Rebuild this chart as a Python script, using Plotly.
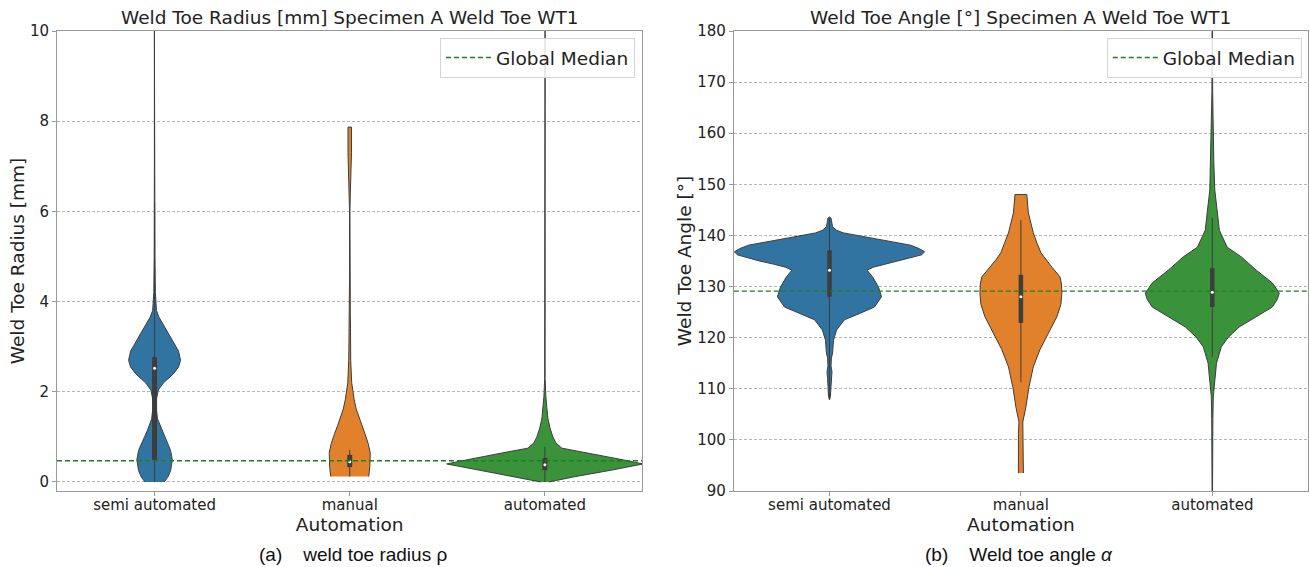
import plotly.graph_objects as go

categories = ["semi automated", "manual", "automated"]
fill_colors = ["#3274a1", "#e1812c", "#3a923a"]

# ---------- (a) weld toe radius: violin profiles (value, half-width in category units)
rad_semi_y = [0.0, 0.1, 0.25, 0.49, 0.7, 0.9, 1.15, 1.4, 1.66, 1.85, 2.04, 2.2, 2.4, 2.55, 2.7, 2.9, 3.15, 3.35,
              3.52, 3.65, 3.8, 4.2, 5.0, 7.0, 10.3]
rad_semi_w = [0.049, 0.067, 0.082, 0.091, 0.082, 0.062, 0.036, 0.015, 0.008, 0.010, 0.019, 0.046, 0.097, 0.123,
              0.133, 0.123, 0.090, 0.062, 0.041, 0.023, 0.010, 0.004, 0.002, 0.001, 0.001]
rad_man_y = [0.12, 0.34, 0.64, 0.85, 1.08, 1.25, 1.44, 1.62, 1.82, 2.0, 2.2, 2.7, 3.0, 3.4, 3.7, 4.5, 6.0, 6.4,
             6.8, 7.3, 7.87]
rad_man_w = [0.097, 0.103, 0.105, 0.095, 0.077, 0.062, 0.046, 0.033, 0.023, 0.015, 0.010, 0.005, 0.003, 0.004,
             0.003, 0.001, 0.001, 0.003, 0.007, 0.009, 0.009]
rad_auto_y = [0.0, 0.11, 0.26, 0.4, 0.5, 0.6, 0.68, 0.75, 0.87, 1.0, 1.2, 1.42, 1.65, 1.9, 2.3, 10.3]
rad_auto_w = [0.021, 0.144, 0.338, 0.503, 0.390, 0.262, 0.174, 0.087, 0.056, 0.041, 0.026, 0.015, 0.010, 0.005,
              0.001, 0.001]
# inner box stats: whisker low, q1, median, q3, whisker high
rad_box = [[0.0, 0.49, 2.52, 2.77, 6.2],
           [0.12, 0.33, 0.45, 0.60, 0.71],
           [0.0, 0.26, 0.38, 0.53, 0.78]]
rad_global_median = 0.47

# ---------- (b) weld toe angle
ang_semi_y = [107.8, 108.5, 110.5, 112.0, 113.3, 114.5, 116.0, 117.0, 119.5, 121.5, 123.5, 124.8, 126.0, 128.0,
              129.9, 131.9, 133.2, 133.8, 134.4, 135.0, 135.6, 136.2, 136.8, 137.4, 138.1, 138.8, 139.3, 139.7,
              140.5, 141.0, 141.7, 143.4, 143.6]
ang_semi_w = [0.0, 0.005, 0.008, 0.010, 0.013, 0.008, 0.010, 0.016, 0.021, 0.037, 0.078, 0.162, 0.235, 0.272,
              0.256, 0.225, 0.196, 0.230, 0.293, 0.366, 0.429, 0.481, 0.497, 0.470, 0.423, 0.321, 0.246, 0.188,
              0.073, 0.037, 0.016, 0.008, 0.0]
ang_man_y = [93.5, 97.0, 101.3, 103.5, 106.4, 110.3, 114.3, 117.6, 120.9, 124.1, 126.5, 128.7, 130.5, 131.9,
             133.8, 135.2, 136.6, 138.5, 140.5, 144.4, 148.0]
ang_man_w = [0.013, 0.013, 0.013, 0.010, 0.026, 0.042, 0.065, 0.099, 0.144, 0.188, 0.209, 0.214, 0.212, 0.204,
             0.162, 0.131, 0.105, 0.084, 0.065, 0.039, 0.031]
ang_auto_y = [88.0, 98.6, 104.0, 108.4, 111.7, 115.0, 118.2, 120.1, 122.1, 124.0, 126.0, 127.5, 128.7, 130.7,
              133.2, 135.8, 137.7, 141.0, 145.0, 148.9, 154.2, 160.6, 168.0, 182.0]
ang_auto_w = [0.001, 0.001, 0.003, 0.005, 0.013, 0.022, 0.047, 0.084, 0.141, 0.225, 0.314, 0.340, 0.350, 0.314,
              0.230, 0.152, 0.078, 0.037, 0.025, 0.013, 0.008, 0.005, 0.002, 0.001]
ang_box = [[108.0, 128.0, 133.2, 137.1, 143.4],
           [111.3, 122.9, 128.0, 132.3, 143.0],
           [116.2, 126.0, 128.9, 133.6, 143.4]]
ang_global_median = 129.1

EDGE = "#3d3d3d"

fig = go.Figure()


def add_violin(pos, ys, ws, color, xa, ya):
    xs = [pos + w for w in ws] + [pos - w for w in reversed(ws)]
    yy = list(ys) + list(reversed(ys))
    fig.add_trace(go.Scatter(x=xs, y=yy, fill="toself", fillcolor=color, mode="lines",
                             line=dict(color=EDGE, width=1), showlegend=False, hoverinfo="skip",
                             xaxis=xa, yaxis=ya))


def add_box(pos, stats, xa, ya, bw):
    lo, q1, med, q3, hi = stats
    fig.add_trace(go.Scatter(x=[pos, pos], y=[lo, hi], mode="lines", line=dict(color=EDGE, width=1),
                             showlegend=False, hoverinfo="skip", xaxis=xa, yaxis=ya))
    fig.add_trace(go.Scatter(x=[pos, pos], y=[q1, q3], mode="lines", line=dict(color=EDGE, width=bw),
                             showlegend=False, hoverinfo="skip", xaxis=xa, yaxis=ya))
    fig.add_trace(go.Scatter(x=[pos], y=[med], mode="markers", marker=dict(color="white", size=3),
                             showlegend=False, hoverinfo="skip", xaxis=xa, yaxis=ya))


rad_profiles = [(rad_semi_y, rad_semi_w), (rad_man_y, rad_man_w), (rad_auto_y, rad_auto_w)]
ang_profiles = [(ang_semi_y, ang_semi_w), (ang_man_y, ang_man_w), (ang_auto_y, ang_auto_w)]

for i, (ys, ws) in enumerate(rad_profiles):
    add_violin(i, ys, ws, fill_colors[i], "x", "y")
    add_box(i, rad_box[i], "x", "y", 5)
for i, (ys, ws) in enumerate(ang_profiles):
    add_violin(i, ys, ws, fill_colors[i], "x2", "y2")
    add_box(i, ang_box[i], "x2", "y2", 4.5)

gm_line = dict(color="#1a801a", width=1.4, dash="5px,3px")
fig.add_trace(go.Scatter(x=[-0.5, 2.5], y=[rad_global_median] * 2, mode="lines", name="Global Median",
                         line=gm_line, legend="legend", xaxis="x", yaxis="y"))
fig.add_trace(go.Scatter(x=[-0.5, 2.5], y=[ang_global_median] * 2, mode="lines", name="Global Median",
                         line=gm_line, legend="legend2", xaxis="x2", yaxis="y2"))

axis_common = dict(showline=True, linecolor="#999999", linewidth=1, mirror=True, ticks="outside",
                   ticklen=4, tickcolor="#999999", zeroline=False, automargin=False,
                   tickfont=dict(size=15, color="#222"))
xcommon = dict(axis_common, range=[-0.5, 2.5], tickvals=[0, 1, 2], ticktext=categories, showgrid=False,
               ticklabelstandoff=-4,
               title=dict(text="Automation", font=dict(size=18.5, color="#222"), standoff=0))
ycommon = dict(axis_common, showgrid=True, gridcolor="#b5b5b5", gridwidth=0.8, griddash="3px,2px")

legend_common = dict(bgcolor="rgba(255,255,255,0.85)", bordercolor="#d5d5d5", borderwidth=1,
                     font=dict(size=18.5, color="#222"), yanchor="top", xanchor="right", y=0.985,
                     itemwidth=45)

fig.update_layout(
    width=1310, height=567,
    margin=dict(l=57, r=2, t=31, b=76, autoexpand=False),
    plot_bgcolor="white", paper_bgcolor="white",
    font=dict(family="DejaVu Sans", size=15, color="#222"),
    xaxis=dict(xcommon, domain=[0, 0.468], anchor="y"),
    yaxis=dict(ycommon, range=[-0.2, 10], tickvals=[0, 2, 4, 6, 8, 10], anchor="x",
               title=dict(text="Weld Toe Radius [mm]", font=dict(size=18.5, color="#222"), standoff=0)),
    xaxis2=dict(xcommon, domain=[0.541, 1], anchor="y2"),
    yaxis2=dict(ycommon, range=[90, 180], dtick=10, anchor="x2",
                title=dict(text="Weld Toe Angle [°]", font=dict(size=18.5, color="#222"), standoff=0)),
    legend=dict(legend_common, x=0.462),
    legend2=dict(legend_common, x=0.995),
    annotations=[
        dict(text="Weld Toe Radius [mm] Specimen A Weld Toe WT1", xref="paper", yref="paper",
             x=0.234, y=1, xanchor="center", yanchor="bottom", yshift=1, showarrow=False,
             font=dict(size=18.5, color="#222")),
        dict(text="Weld Toe Angle [°] Specimen A Weld Toe WT1", xref="paper", yref="paper",
             x=0.7705, y=1, xanchor="center", yanchor="bottom", yshift=1, showarrow=False,
             font=dict(size=18.5, color="#222")),
        dict(text="(a)\u00a0\u00a0\u00a0\u00a0weld toe radius ρ", xref="paper", yref="paper",
             x=0.237, y=0, xanchor="center", yanchor="middle", yshift=-63, showarrow=False,
             font=dict(size=19, color="#111", family="Liberation Sans")),
        dict(text="(b)\u00a0\u00a0\u00a0\u00a0Weld toe angle <i>α</i>", xref="paper", yref="paper",
             x=0.769, y=0, xanchor="center", yanchor="middle", yshift=-63, showarrow=False,
             font=dict(size=19, color="#111", family="Liberation Sans")),
    ],
)

fig.write_html("out.html", config={"displayModeBar": False},
               post_script="document.body.style.margin='0px';document.body.style.padding='0px';")
